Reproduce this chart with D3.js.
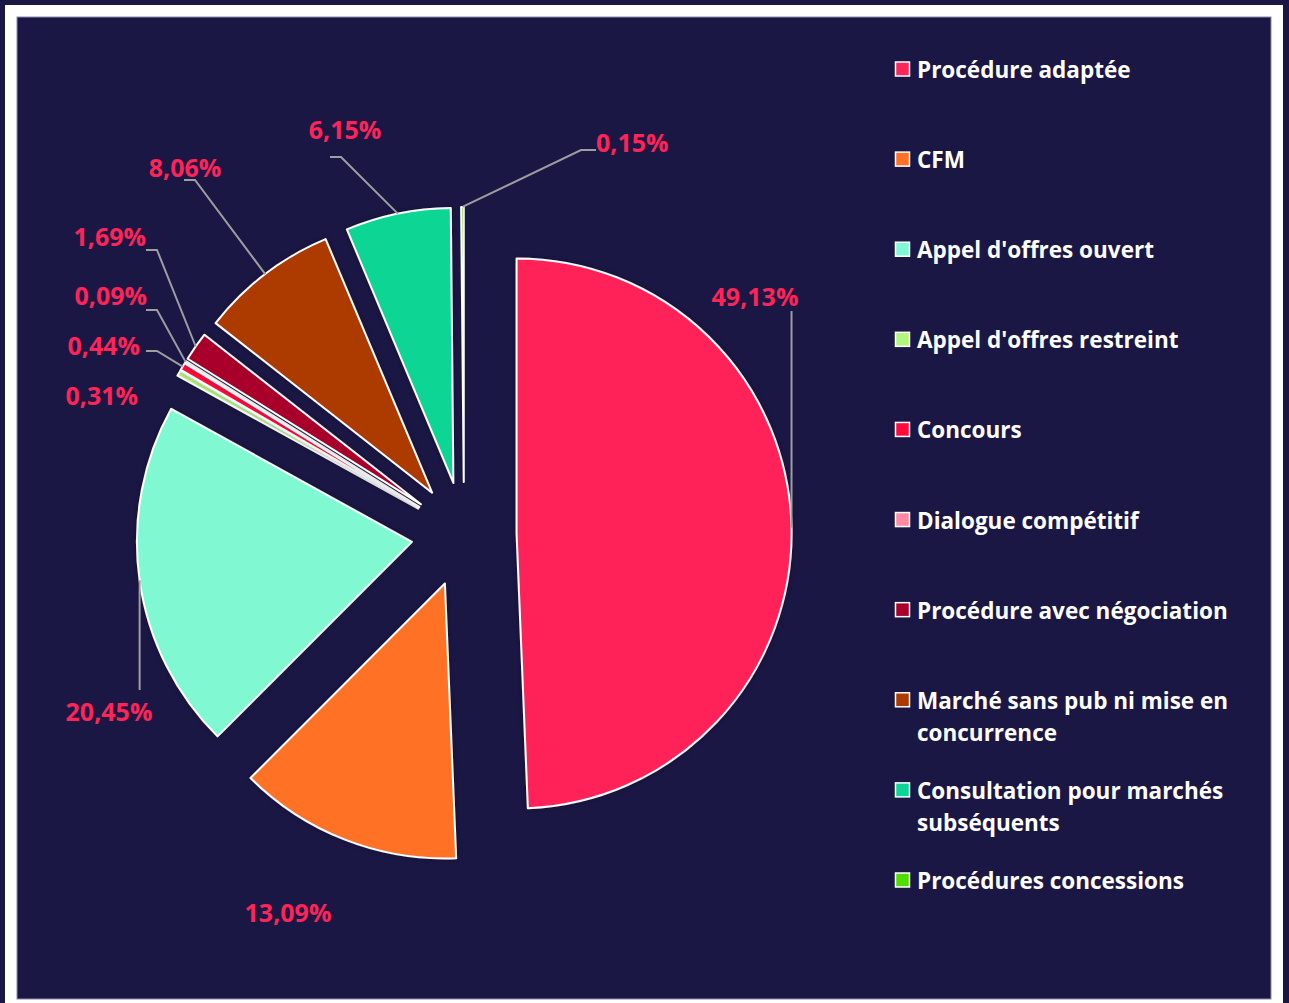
<!DOCTYPE html>
<html>
<head>
<meta charset="utf-8">
<script src="https://cdn.jsdelivr.net/npm/d3@7/dist/d3.min.js"></script>
<style>
  body { margin: 0; background: #1b1745; }
  svg { display: block; }
  text { font-family: "Open Sans", "Noto Sans", sans-serif; font-weight: 700; }
</style>
</head>
<body>
<svg class="chart" width="1289" height="1003"></svg>
<script>
// data
let categories = ["Procédure adaptée", "CFM", "Appel d'offres ouvert", "Appel d'offres restreint",
  "Concours", "Dialogue compétitif", "Procédure avec négociation",
  "Marché sans pub ni mise en concurrence", "Consultation pour marchés subséquents",
  "Procédures concessions"];
let shares = [49.13, 13.09, 20.45, 0.31, 0.44, 0.09, 1.69, 8.06, 6.15, 0.15];
let colors = ["#ff2459", "#ff7226", "#80f8d2", "#b2f57c", "#ff0a3c", "#ff8aa2",
  "#a8002a", "#ad3a00", "#0bd695", "#4fdc00"];

// setup parameters
let width = 1289, height = 1003;
let cx = 464, cy = 534.5;     // pie centre
let radius = 275;
let explode = 52.6;           // every slice is pulled out by this much

// label placement, relative to the pie centre (line: none / vertical / elbow)
let labelLayout = [
  {line: "vertical", ey: -223.5, lx: 291, ly: -238.5, anchor: "middle"},
  {line: "none", lx: -176, ly: 377.5, anchor: "middle"},
  {line: "vertical", ey: 155.5, lx: -355, ly: 176.5, anchor: "middle"},
  {line: "none", lx: -326, ly: -139.5, anchor: "end"},
  {line: "elbow", ex: -307, ey: -183.5, hx: -318, lx: -324, ly: -189.5, anchor: "end"},
  {line: "elbow", ex: -307, ey: -224.5, hx: -318, lx: -317, ly: -239.5, anchor: "end"},
  {line: "elbow", ex: -307, ey: -284.5, hx: -318, lx: -318, ly: -298.5, anchor: "end"},
  {line: "elbow", ex: -269, ey: -354.5, hx: -280, lx: -279, ly: -367.5, anchor: "middle"},
  {line: "elbow", ex: -123, ey: -377.5, hx: -134, lx: -119, ly: -405.5, anchor: "middle"},
  {line: "elbow", ex: 117, ey: -384.5, hx: 132, lx: 132, ly: -392.5, anchor: "start"}
];

let svg = d3.select('svg.chart');

// frame: white border round the dark panel
svg.append('rect')
  .attr('x', 5).attr('y', 5)
  .attr('width', 1278).attr('height', 1010)
  .style('fill', '#ffffff');
svg.append('rect')
  .attr('x', 17).attr('y', 17)
  .attr('width', 1254).attr('height', 982)
  .style('fill', '#1b1745')
  .style('stroke', '#8d8aa8')
  .style('stroke-width', 1);

let defs = svg.append('defs');
let shadow = defs.append('filter').attr('id', 'shadow')
  .attr('x', '-20%').attr('y', '-20%').attr('width', '140%').attr('height', '140%');
shadow.append('feDropShadow')
  .attr('dx', 0).attr('dy', 0).attr('stdDeviation', 3)
  .attr('flood-color', '#000000').attr('flood-opacity', 0.35);

let pie = d3.pie().sort(null).value(d => d);
let arcs = pie(shares);
let arc = d3.arc().innerRadius(0).outerRadius(radius);

let midAngle = d => (d.startAngle + d.endAngle) / 2;
let offset = d => [Math.sin(midAngle(d)) * explode, -Math.cos(midAngle(d)) * explode];

let g = svg.append('g').attr('transform', `translate(${cx},${cy})`);

g.selectAll('path.slice')
  .data(arcs)
  .enter()
  .append('path')
  .attr('class', 'slice')
  .attr('transform', d => `translate(${offset(d)[0]},${offset(d)[1]})`)
  .attr('d', arc)
  .attr('filter', 'url(#shadow)')
  .style('fill', (d, i) => colors[i])
  .style('stroke', '#ffffff')
  .style('stroke-width', 2)
  .style('stroke-linejoin', 'round');

// connector lines start on the outer arc at the slice's middle angle
let arcPoint = d => {
  let o = offset(d), a = midAngle(d);
  return [o[0] + Math.sin(a) * radius, o[1] - Math.cos(a) * radius];
};

let lineGen = d3.line();
g.selectAll('path.connector')
  .data(arcs.filter((d, i) => labelLayout[i].line !== 'none'))
  .enter()
  .append('path')
  .attr('class', 'connector')
  .attr('d', d => {
    let L = labelLayout[d.index];
    let p = arcPoint(d);
    if (L.line === 'vertical') return lineGen([p, [p[0], L.ey]]);
    return lineGen([p, [L.ex, L.ey], [L.hx, L.ey]]);
  })
  .style('fill', 'none')
  .style('stroke', '#9e9e9e')
  .style('stroke-width', 2);

let fmt = v => d3.format('.2f')(v).replace('.', ',') + '%';

g.selectAll('text.pct')
  .data(arcs)
  .enter()
  .append('text')
  .attr('class', 'pct')
  .attr('x', (d, i) => labelLayout[i].lx)
  .attr('y', (d, i) => labelLayout[i].ly)
  .attr('text-anchor', (d, i) => labelLayout[i].anchor)
  .attr('dominant-baseline', 'central')
  .style('font-size', '25px')
  .style('fill', '#ff2457')
  .text(d => fmt(d.data));

// legend
let legendY = d3.scalePoint().domain(categories).range([69, 880]);
let legend = svg.append('g').selectAll('g.item')
  .data(categories)
  .enter()
  .append('g')
  .attr('class', 'item')
  .attr('transform', d => `translate(895,${legendY(d)})`);

legend.append('rect')
  .attr('x', 0.5).attr('y', -7)
  .attr('width', 14).attr('height', 14)
  .style('fill', (d, i) => colors[i])
  .style('stroke', '#ffffff')
  .style('stroke-width', 1.5);

legend.append('text')
  .attr('x', 22)
  .attr('y', 0)
  .attr('dominant-baseline', 'central')
  .style('font-size', '22.5px')
  .style('fill', '#ffffff')
  .each(function(d) {
    // wrap long names onto a second line
    let el = d3.select(this);
    let words = d.split(' ');
    let line = [], lines = [];
    let t = el.append('tspan').attr('x', 22);
    words.forEach(w => {
      line.push(w);
      t.text(line.join(' '));
      if (t.node().getComputedTextLength() > 335 && line.length > 1) {
        line.pop();
        lines.push(line.join(' '));
        line = [w];
      }
    });
    lines.push(line.join(' '));
    t.remove();
    lines.forEach((l, k) => {
      el.append('tspan').attr('x', 22).attr('y', k * 32).text(l);
    });
  });
</script>
</body>
</html>
